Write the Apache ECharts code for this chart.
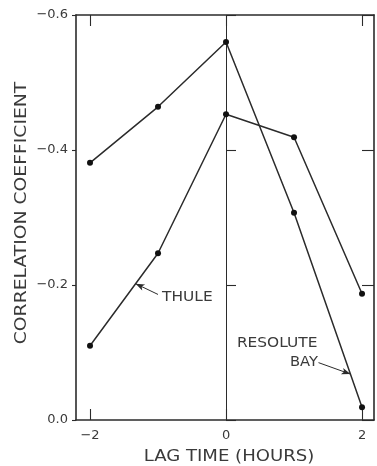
<!DOCTYPE html>
<html>
<head>
<meta charset="utf-8">
<script src="https://cdn.jsdelivr.net/npm/echarts@6/dist/echarts.min.js"></script>
<style>
  html, body { margin: 0; padding: 0; background: #fff; }
  #chart { width: 377px; height: 466px; }
</style>
</head>
<body>
<div id="chart"></div>
<script>
// Lag (hours) and correlation coefficients for the two stations
const lagHours = [-2, -1, 0, 1, 2];
const thule = [-0.110, -0.247, -0.453, -0.419, -0.187];
const resoluteBay = [-0.381, -0.464, -0.560, -0.307, -0.019];
const xTicks = [-2, 0, 2];
const yTicks = [-0.6, -0.4, -0.2, 0.0];

const ink = '#2b2b2b';
const textInk = '#3a3a3a';
const font = 'DejaVu Sans';

const chart = echarts.init(document.getElementById('chart'), null, { renderer: 'canvas' });

function fmtY(v) {
  const s = Math.abs(v).toFixed(1);
  return v < -1e-9 ? '\u2212' + s : s;
}
function fmtX(v) {
  return v < 0 ? '\u2212' + Math.abs(v) : String(v);
}
const pairs = arr => lagHours.map((x, i) => [x, arr[i]]);

const xRange = { min: -2.206, max: 2.176 };
const yRange = { min: -0.6, max: 0, inverse: true };

const frameLine = { show: true, onZero: false, lineStyle: { color: ink, width: 1.6 } };
const tickStyle = { color: ink, width: 1.1 };

const lineSeries = (name, values) => ({
  name,
  type: 'line',
  data: pairs(values),
  xAxisIndex: 0,
  yAxisIndex: 0,
  symbol: 'circle',
  symbolSize: 6,
  lineStyle: { color: ink, width: 1.5 },
  itemStyle: { color: '#111' },
  z: 5
});

// pointer line ending in a small arrowhead
const pointer = (from, to) => [
  { coord: from, symbol: 'none' },
  { coord: to, symbol: 'arrow', symbolSize: [5, 9] }
];

const thuleSeries = lineSeries('THULE', thule);
thuleSeries.markLine = {
  silent: true,
  symbol: ['none', 'none'],
  label: { show: false },
  lineStyle: { color: ink, width: 1, type: 'solid' },
  data: [
    // vertical reference line at zero lag
    { xAxis: 0 },
    pointer([-1.0, -0.186], [-1.33, -0.202])
  ]
};

const resoluteSeries = lineSeries('RESOLUTE BAY', resoluteBay);
resoluteSeries.markLine = {
  silent: true,
  symbol: ['none', 'none'],
  label: { show: false },
  lineStyle: { color: ink, width: 1, type: 'solid' },
  data: [
    pointer([1.36, -0.085], [1.83, -0.068])
  ]
};

chart.setOption({
  animation: false,
  backgroundColor: '#fff',
  grid: { left: 76, right: 3, top: 15, bottom: 46 },
  xAxis: [
    {
      type: 'value', position: 'bottom', ...xRange,
      axisLine: frameLine,
      axisTick: { show: true, inside: true, length: 11, customValues: xTicks, lineStyle: tickStyle },
      axisLabel: { customValues: xTicks, formatter: fmtX, margin: 9, fontFamily: font, fontSize: 13, color: textInk },
      splitLine: { show: false }
    },
    {
      type: 'value', position: 'top', ...xRange,
      axisLine: frameLine,
      axisTick: { show: true, inside: true, length: 11, customValues: xTicks, lineStyle: tickStyle },
      axisLabel: { show: false },
      splitLine: { show: false }
    }
  ],
  yAxis: [
    {
      type: 'value', position: 'left', ...yRange,
      axisLine: frameLine,
      axisTick: { show: true, inside: false, length: 4, customValues: yTicks, lineStyle: tickStyle },
      axisLabel: { customValues: yTicks, formatter: fmtY, margin: 8, fontFamily: font, fontSize: 13, color: textInk },
      splitLine: { show: false }
    },
    {
      type: 'value', position: 'right', ...yRange,
      axisLine: frameLine,
      axisTick: { show: true, inside: true, length: 12, customValues: yTicks, lineStyle: tickStyle },
      axisLabel: { show: false },
      splitLine: { show: false }
    },
    {
      type: 'value', position: 'left', offset: 0, ...yRange,
      axisLine: { show: false },
      axisTick: { show: true, inside: true, length: 10, customValues: yTicks, lineStyle: tickStyle },
      axisLabel: { show: false },
      splitLine: { show: false }
    }
  ],
  series: [thuleSeries, resoluteSeries]
});

// Station labels placed in data space, plus the axis titles
const toPx = c => chart.convertToPixel({ xAxisIndex: 0, yAxisIndex: 0 }, c);
const label = (txt, coord, size, sx) => {
  const p = toPx(coord);
  return {
    type: 'text', x: p[0], y: p[1], scaleX: sx, silent: true,
    style: { text: txt, fontFamily: font, fontSize: size, fill: textInk, textAlign: 'left', textVerticalAlign: 'middle' }
  };
};

chart.setOption({
  graphic: [
    label('THULE', [-0.94, -0.181], 14, 1.1),
    label('RESOLUTE', [0.16, -0.113], 14, 1.1),
    label('BAY', [0.94, -0.086], 14, 1.05),
    {
      type: 'text', x: 229, y: 457, scaleX: 1.13, silent: true,
      style: { text: 'LAG TIME (HOURS)', fontFamily: font, fontSize: 16, fill: textInk, textAlign: 'center', textVerticalAlign: 'middle' }
    },
    {
      type: 'text', x: 22, y: 213, rotation: Math.PI / 2, scaleX: 1.25, silent: true,
      style: { text: 'CORRELATION COEFFICIENT', fontFamily: font, fontSize: 15, fill: textInk, textAlign: 'center', textVerticalAlign: 'middle' }
    }
  ]
});
</script>
</body>
</html>
